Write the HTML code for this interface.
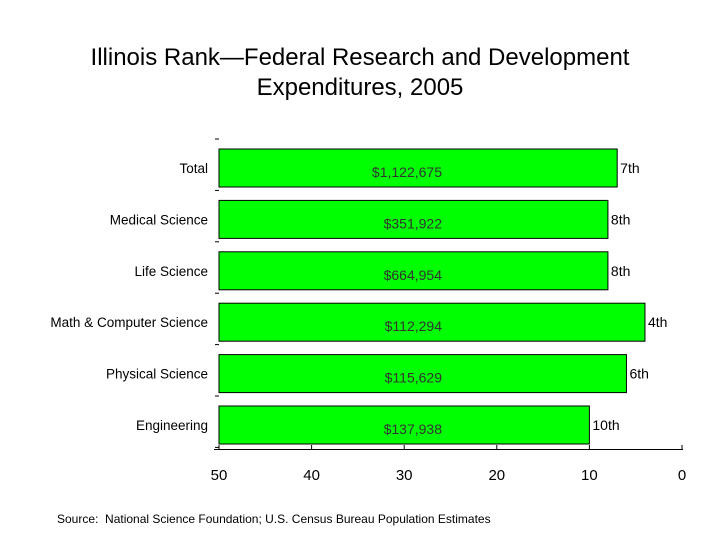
<!DOCTYPE html>
<html><head><meta charset="utf-8"><style>
body{margin:0;background:#fff;font-family:"Liberation Sans",sans-serif;}
#wrap{position:relative;width:720px;height:540px;overflow:hidden;}
.title{position:absolute;left:0;width:720px;text-align:center;top:43px;font-size:24px;line-height:30px;color:#000;}
.src{position:absolute;left:57px;top:512px;font-size:12px;}
</style></head><body>
<div id="wrap">
<div class="title"><span style="position:relative;left:0px">Illinois Rank—Federal Research and Development</span><br><span style="position:relative;left:0px">Expenditures, 2005</span></div>
<svg id="svg" width="720" height="540" style="position:absolute;left:0;top:0"></svg>
<div class="src">Source:&nbsp; National Science Foundation; U.S. Census Bureau Population Estimates</div>
</div>
<script>
const categories=["Total","Medical Science","Life Science","Math & Computer Science","Physical Science","Engineering"];
const ranks=[7,8,8,4,6,10];
const rankLabels=["7th","8th","8th","4th","6th","10th"];
const amounts=["$1,122,675","$351,922","$664,954","$112,294","$115,629","$137,938"];
const ticks=[50,40,30,20,10,0];
const NS="http://www.w3.org/2000/svg";
const svg=document.getElementById('svg');
const x=v=>219+(50-v)*(682-219)/50;
const top0=139,band=51.4;
function el(t,a,txt){const e=document.createElementNS(NS,t);for(const k in a)e.setAttribute(k,a[k]);if(txt!=null)e.textContent=txt;svg.appendChild(e);return e;}
for(let i=0;i<=categories.length;i++){
  const t=el('line',{x1:215,x2:219,y1:top0+i*band,y2:top0+i*band,stroke:'#000','stroke-width':1});
  
  
}
categories.forEach((c,i)=>{
  const y0=top0+i*band+10,h=38,cy=y0+h/2;
  const r=el('rect',{x:x(50),y:y0,width:x(ranks[i])-x(50),height:h,fill:'#00ff00',stroke:'#000','stroke-width':1});
  
  
  const l=el('text',{x:208,y:cy+5,'text-anchor':'end','font-size':13.5,fill:'#000'},c);
  
  
  const a=el('text',{x:442,y:cy+9,'text-anchor':'end','font-size':14,fill:'#333'},amounts[i]);
  
  
  const rk=el('text',{x:x(ranks[i])+3,y:cy+5,'font-size':14,fill:'#000'},rankLabels[i]);
  
  
});
const ax=el('line',{x1:214,x2:683,y1:449.5,y2:449.5,stroke:'#000','stroke-width':1});


ticks.forEach(v=>{
  const tl=el('line',{x1:x(v),x2:x(v),y1:445,y2:450,stroke:'#000','stroke-width':1});
  
  
  const t=el('text',{x:x(v),y:480,'text-anchor':'middle','font-size':15,fill:'#000'},String(v));
  
  
});
</script>
</body></html>
